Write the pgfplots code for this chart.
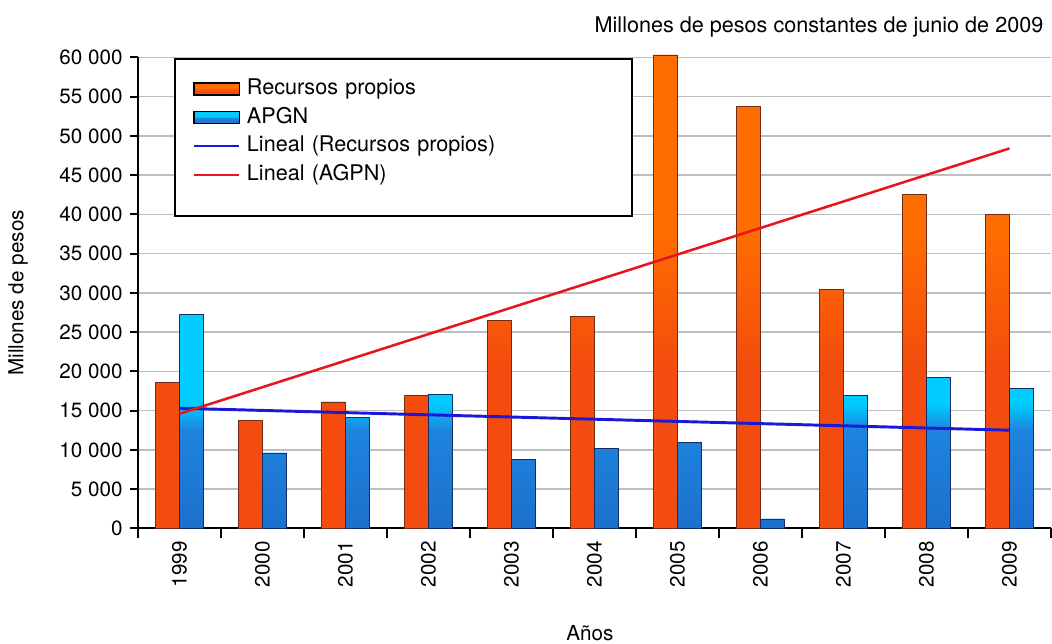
\documentclass[border=0pt]{standalone}
\usepackage{pgfplots}
\pgfplotsset{compat=1.18}
\usepackage{pgfplotstable}
\usepackage{fontspec}
\setmainfont{TeX Gyre Heros}

\newcommand{\fs}{\fontsize{15.5}{18}\selectfont}
\newcommand{\fl}{\fontsize{16.2}{19}\selectfont}

\definecolor{rptop}{RGB}{255,108,0}
\definecolor{rpbot}{RGB}{243,76,14}
\definecolor{aptop}{RGB}{0,204,255}
\definecolor{apmid}{RGB}{30,132,222}
\definecolor{apbot}{RGB}{28,112,205}
\definecolor{rpedge}{RGB}{110,45,20}
\definecolor{apedge}{RGB}{20,45,100}
\definecolor{trendblue}{RGB}{25,25,215}
\definecolor{trendred}{RGB}{232,20,30}
\definecolor{gridgray}{RGB}{190,190,190}

% vertical gradients of the bars (25bp = bottom of bar, 75bp = top)
\pgfdeclareverticalshading{rpshade}{100bp}{color(0bp)=(rpbot); color(25bp)=(rpbot); color(42bp)=(rpbot); color(56bp)=(rptop); color(75bp)=(rptop); color(100bp)=(rptop)}
\pgfdeclareverticalshading{apshade}{100bp}{color(0bp)=(apbot); color(25bp)=(apbot); color(48bp)=(apmid); color(54bp)=(aptop); color(75bp)=(aptop); color(100bp)=(aptop)}

% anio (0 = 1999), recursos propios, APGN
\pgfplotstableread{
x rp apgn
0 18600 27300
1 13800 9600
2 16100 14100
3 16900 17100
4 26500 8800
5 27000 10200
6 60300 10900
7 53800 1200
8 30400 16900
9 42500 19200
10 40000 17800
}\datos

\begin{document}
\begin{tikzpicture}
\begin{axis}[
    scale only axis,
    width=684.75pt, height=353.25pt,
    xmin=-0.5, xmax=10.5,
    ymin=0, ymax=60000,
    clip=false,
    axis x line*=bottom, axis y line*=left,
    axis line style={black, line width=1.5pt},
    xtick={0,...,10},
    xticklabels={1999,2000,2001,2002,2003,2004,2005,2006,2007,2008,2009},
    minor xtick={-0.5,0.5,...,10.5},
    ytick={0,5000,...,60000},
    scaled y ticks=false,
    /pgf/number format/1000 sep={\ },
    /pgf/number format/assume math mode=true,
    tick align=outside,
    major tick length=6pt, minor tick length=7pt,
    tick style={black, line width=1.5pt},
    every major x tick/.append style={draw=none},
    tick label style={font=\fs},
    x tick label style={rotate=90, anchor=east},
    y tick label style={xshift=-2pt},
    ymajorgrids,
    grid style={gridgray, line width=1pt},
    label style={font=\fs},
    ylabel={Millones de pesos},
    ylabel style={at={(axis description cs:-0.1314,0.5)}, anchor=center},
    xlabel={Años},
    xlabel style={at={(axis description cs:0.495,-0.2223)}, anchor=center},
    legend cell align=left,
    legend style={at={(axis description cs:0.0394,0.999)}, anchor=north west,
        draw=black, line width=1.5pt, font=\fl,
        inner xsep=13.5pt, inner ysep=13.5pt, row sep=3pt, column sep=3pt,
        nodes={text width=273pt, align=left, text height=11.8pt, text depth=3.6pt,
               inner ysep=1.5pt, inner xsep=2pt}},
]
\addplot[ybar, bar width=18pt, bar shift=-9pt, fill=rptop, shade, shading=rpshade,
    draw=rpedge, line width=0.6pt,
    legend image code/.code={\draw[fill=rptop, draw=black, line width=1pt] (0pt,-4.5pt) rectangle (34pt,4.5pt);}]
    table[x=x, y=rp] {\datos};
\addlegendentry{Recursos propios}
\addplot[ybar, bar width=18pt, bar shift=9pt, fill=aptop, shade, shading=apshade,
    draw=apedge, line width=0.6pt,
    legend image code/.code={\draw[fill=aptop, draw=black, line width=1pt] (0pt,-4.5pt) rectangle (34pt,4.5pt);}]
    table[x=x, y=apgn] {\datos};
\addlegendentry{APGN}
\addplot[trendblue, line width=2.2pt, sharp plot, no marks,
    legend image code/.code={\draw[trendblue, line width=1.5pt] (0pt,0pt) -- (34pt,0pt);}]
    coordinates {(0,15300) (10,12500)};
\addlegendentry{Lineal (Recursos propios)}
\addplot[trendred, line width=1.9pt, sharp plot, no marks,
    legend image code/.code={\draw[trendred, line width=1.5pt] (0pt,0pt) -- (34pt,0pt);}]
    coordinates {(0,14600) (10,48400)};
\addlegendentry{Lineal (AGPN)}
\addlegendimage{empty legend}
\addlegendentry[text height=5pt, text depth=0pt, inner ysep=0pt]{}

\node[anchor=east, font=\fl, xshift=-2.25pt, yshift=22.5pt] at (rel axis cs:1,1)
    {Millones de pesos constantes de junio de 2009};
\end{axis}
\pgfresetboundingbox
\path[use as bounding box] ([xshift=-103.5pt,yshift=-86pt]current axis.south west)
    rectangle ([xshift=0.75pt,yshift=43pt]current axis.north east);
\end{tikzpicture}
\end{document}
